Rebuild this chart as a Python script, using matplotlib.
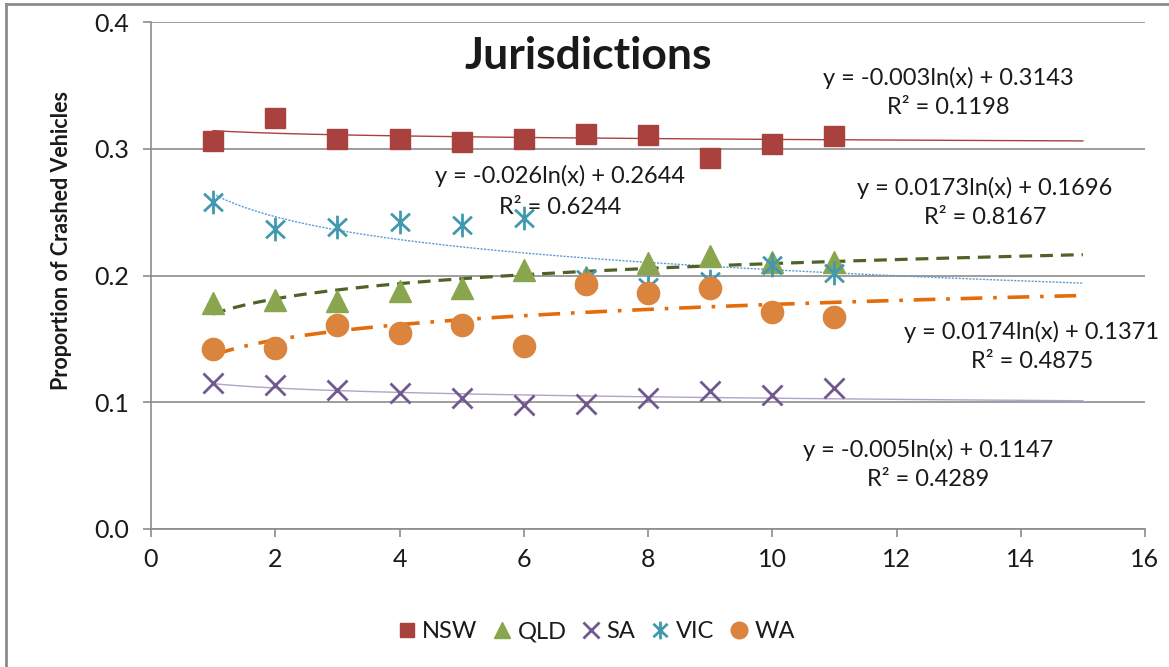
import numpy as np
import matplotlib
matplotlib.use('Agg')
import matplotlib.pyplot as plt
from matplotlib.path import Path
from matplotlib.lines import Line2D

plt.rcParams['font.family'] = ['Lato', 'DejaVu Sans']

# data
years = [1, 2, 3, 4, 5, 6, 7, 8, 9, 10, 11]
nsw = [0.306, 0.324, 0.308, 0.308, 0.305, 0.308, 0.312, 0.311, 0.293, 0.304, 0.310]
qld = [0.178, 0.181, 0.180, 0.188, 0.190, 0.204, 0.199, 0.210, 0.215, 0.211, 0.211]
sa = [0.115, 0.114, 0.110, 0.107, 0.103, 0.098, 0.099, 0.103, 0.109, 0.106, 0.111]
vic = [0.258, 0.237, 0.238, 0.242, 0.240, 0.245, 0.197, 0.191, 0.196, 0.208, 0.202]
wa = [0.142, 0.143, 0.161, 0.155, 0.161, 0.144, 0.193, 0.186, 0.190, 0.171, 0.167]

# log trendlines as printed on the chart: (slope, intercept, r2)
trend_nsw = (-0.003, 0.3143, '0.1198')
trend_qld = (0.0173, 0.1696, '0.8167')
trend_sa = (-0.005, 0.1147, '0.4289')
trend_vic = (-0.026, 0.2644, '0.6244')
trend_wa = (0.0174, 0.1371, '0.4875')

W, H = 1169, 667
fig = plt.figure(figsize=(11.69, 6.67), dpi=100)
ax = fig.add_axes([151 / W, 1 - 529 / H, 994 / W, 507 / H])


def px(x, y):
    # pixel position -> data coords
    return (x - 151) / 994 * 16, (529 - y) / 507 * 0.4


# star marker like Excel: vertical bar plus an X
star = Path([(0, -1), (0, 1), (-0.8, -0.75), (0.8, 0.75), (-0.8, 0.75), (0.8, -0.75)],
            [Path.MOVETO, Path.LINETO, Path.MOVETO, Path.LINETO, Path.MOVETO, Path.LINETO])

xt = np.linspace(1, 15, 300)


def trend(t):
    return t[0] * np.log(xt) + t[1]


ax.plot(xt, trend(trend_nsw), color='#A9413E', lw=1.0, zorder=3)
ax.plot(xt, trend(trend_vic), color='#5B9BD5', lw=1.0, ls=(0, (1.5, 1)), zorder=3)
ax.plot(xt, trend(trend_qld), color='#4F6228', lw=2.3, ls=(0, (4, 2.5)), zorder=3)
ax.plot(xt, trend(trend_wa), color='#E46C0A', lw=2.6, ls=(0, (6, 3, 1, 3)), zorder=3)
ax.plot(xt, trend(trend_sa), color='#B3A2C7', lw=1.0, zorder=3)

h_nsw, = ax.plot(years, nsw, ls='none', marker='s', ms=14, color='#A9413E', label='NSW', zorder=4)
h_qld, = ax.plot(years, qld, ls='none', marker='^', ms=16, color='#89A54E', label='QLD', zorder=4)
h_sa, = ax.plot(years, sa, ls='none', marker='x', ms=15, mew=2, color='#71588F', label='SA', zorder=4)
h_vic, = ax.plot(years, vic, ls='none', marker=star, ms=17, mew=2, color='#4198AF', label='VIC', zorder=4)
h_wa, = ax.plot(years, wa, ls='none', marker='o', ms=16, color='#DB843D', label='WA', zorder=5)

ax.set_xlim(0, 16)
ax.set_ylim(0, 0.4)
ax.set_xticks(range(0, 17, 2))
ax.set_yticks([0.0, 0.1, 0.2, 0.3, 0.4])
ax.set_yticklabels(['0.0', '0.1', '0.2', '0.3', '0.4'])
ax.yaxis.grid(True, color='#8C8C8C', lw=1.2)
ax.set_axisbelow(True)
for s in ['top', 'right']:
    ax.spines[s].set_visible(False)
for s in ['left', 'bottom']:
    ax.spines[s].set_color('#8C8C8C')
    ax.spines[s].set_linewidth(1.2)
ax.tick_params(axis='both', colors='#8C8C8C', length=6, width=1.2, labelcolor='#1a1a1a',
               labelsize=18)
ax.tick_params(axis='y', pad=10)
ax.tick_params(axis='x', pad=8)

fig.text(62 / W, 1 - 240 / H, 'Proportion of Crashed Vehicles', rotation=90, fontsize=15.5,
         fontweight='bold', ha='center', va='center', color='#1a1a1a')
fig.text(588 / W, 1 - 56 / H, 'Jurisdictions', fontsize=32, fontweight='bold',
         ha='center', va='center', color='#1a1a1a')

# equation labels (centre of each line, in pixels)
labels = [
    (trend_nsw, 948, 78, 108),
    (trend_vic, 560, 176, 208),
    (trend_qld, 985, 188, 218),
    (trend_wa, 1032, 332, 362),
    (trend_sa, 928, 450, 480),
]
for t, cx, y1, y2 in labels:
    if t[0] < 0:
        eq = 'y = -%.3fln(x) + %g' % (-t[0], t[1])
    else:
        eq = 'y = %gln(x) + %g' % (t[0], t[1])
    x1, yy1 = px(cx, y1)
    x2, yy2 = px(cx, y2)
    ax.text(x1, yy1, eq, fontsize=17, ha='center', va='center', color='#1a1a1a', zorder=6)
    ax.text(x2, yy2, 'R² = ' + t[2], fontsize=17, ha='center', va='center', color='#1a1a1a',
            zorder=6)

leg = fig.legend(handles=[h_nsw, h_qld, h_sa, h_vic, h_wa], loc='center',
                 bbox_to_anchor=(596 / W, 1 - 632 / H), ncol=5, frameon=False,
                 fontsize=17, handlelength=0.8, handletextpad=0.25, columnspacing=0.65,
                 markerscale=0.75)
for txt in leg.get_texts():
    txt.set_color('#1a1a1a')

# outer chart border (left and top edges visible)
fig.add_artist(Line2D([5.5 / W, 5.5 / W], [0, 1 - 3.5 / H], color='#8C8C8C', lw=2,
                      transform=fig.transFigure))
fig.add_artist(Line2D([5.5 / W, 1], [1 - 3.5 / H, 1 - 3.5 / H], color='#8C8C8C', lw=2,
                      transform=fig.transFigure))

fig.savefig('out.png', dpi=100)
